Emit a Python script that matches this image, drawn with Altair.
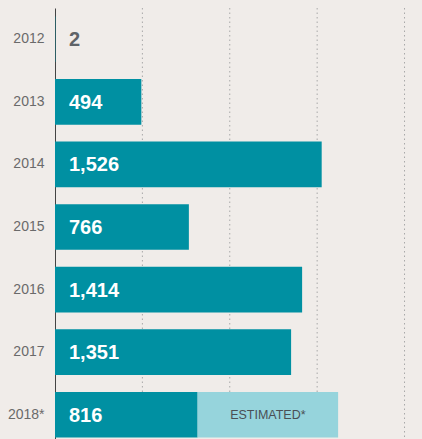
import altair as alt
import pandas as pd

years = ["2012", "2013", "2014", "2015", "2016", "2017", "2018*"]
values = [2, 494, 1526, 766, 1414, 1351, 816]
label_colors = ["#5f6368", "white", "white", "white", "white", "white", "white"]
est_year = ["2018*"]
est_start = [816]
est_end = [1620]
est_label = ["ESTIMATED*"]
grid_values = [500, 1000, 1500, 2000]

df = pd.DataFrame({"year": years, "value": values, "lc": label_colors})
est = pd.DataFrame({"year": est_year, "start": est_start, "end": est_end, "label": est_label})
grid = pd.DataFrame({"g": grid_values})

FONT = "Liberation Sans"

xscale = alt.Scale(domain=[0, 2100], nice=False, zero=True)
yscale = alt.Scale(domain=years, paddingInner=0.27, paddingOuter=0.135)

rules = alt.Chart(grid).mark_rule(color="#a8a8a8", strokeDash=[1.5, 3], strokeWidth=1).encode(
    x=alt.X("g:Q", scale=xscale, axis=None)
)

bars = alt.Chart(df).mark_bar(color="#0090a2").encode(
    x=alt.X("value:Q", scale=xscale, axis=None),
    y=alt.Y("year:N", scale=yscale, sort=years, title=None,
            axis=alt.Axis(domain=True, domainColor="#444444", domainWidth=1, ticks=False,
                          labelPadding=11, labelFontSize=14, labelColor="#6a6a6a",
                          labelFont=FONT, grid=False)),
)

est_bars = alt.Chart(est).mark_bar(color="#96d4dc").encode(
    x=alt.X("start:Q", scale=xscale, axis=None),
    x2="end:Q",
    y=alt.Y("year:N", scale=yscale, sort=years),
)

est_text = alt.Chart(est).transform_calculate(mid="(datum.start + datum.end) / 2").mark_text(
    font=FONT, fontSize=12.5, color="#4a4f55", align="center", baseline="middle"
).encode(
    x=alt.X("mid:Q", scale=xscale, axis=None),
    y=alt.Y("year:N", scale=yscale, sort=years),
    text="label:N",
)

labels = alt.Chart(df).mark_text(
    font=FONT, fontSize=20, fontWeight="bold", align="left", baseline="middle", dx=14, dy=1
).encode(
    x=alt.value(0),
    y=alt.Y("year:N", scale=yscale, sort=years),
    text=alt.Text("value:Q", format=",d"),
    color=alt.Color("lc:N", scale=None),
)

chart = alt.layer(rules, bars, est_bars, est_text, labels).properties(
    width=367,
    height=438,
    background="#f0ece9",
    autosize=alt.AutoSizeParams(type="none"),
    padding={"left": 55, "top": 8, "right": 0, "bottom": 0},
).configure_view(stroke=None)

chart.save("out.html", embed_options={"renderer": "svg", "actions": False})
